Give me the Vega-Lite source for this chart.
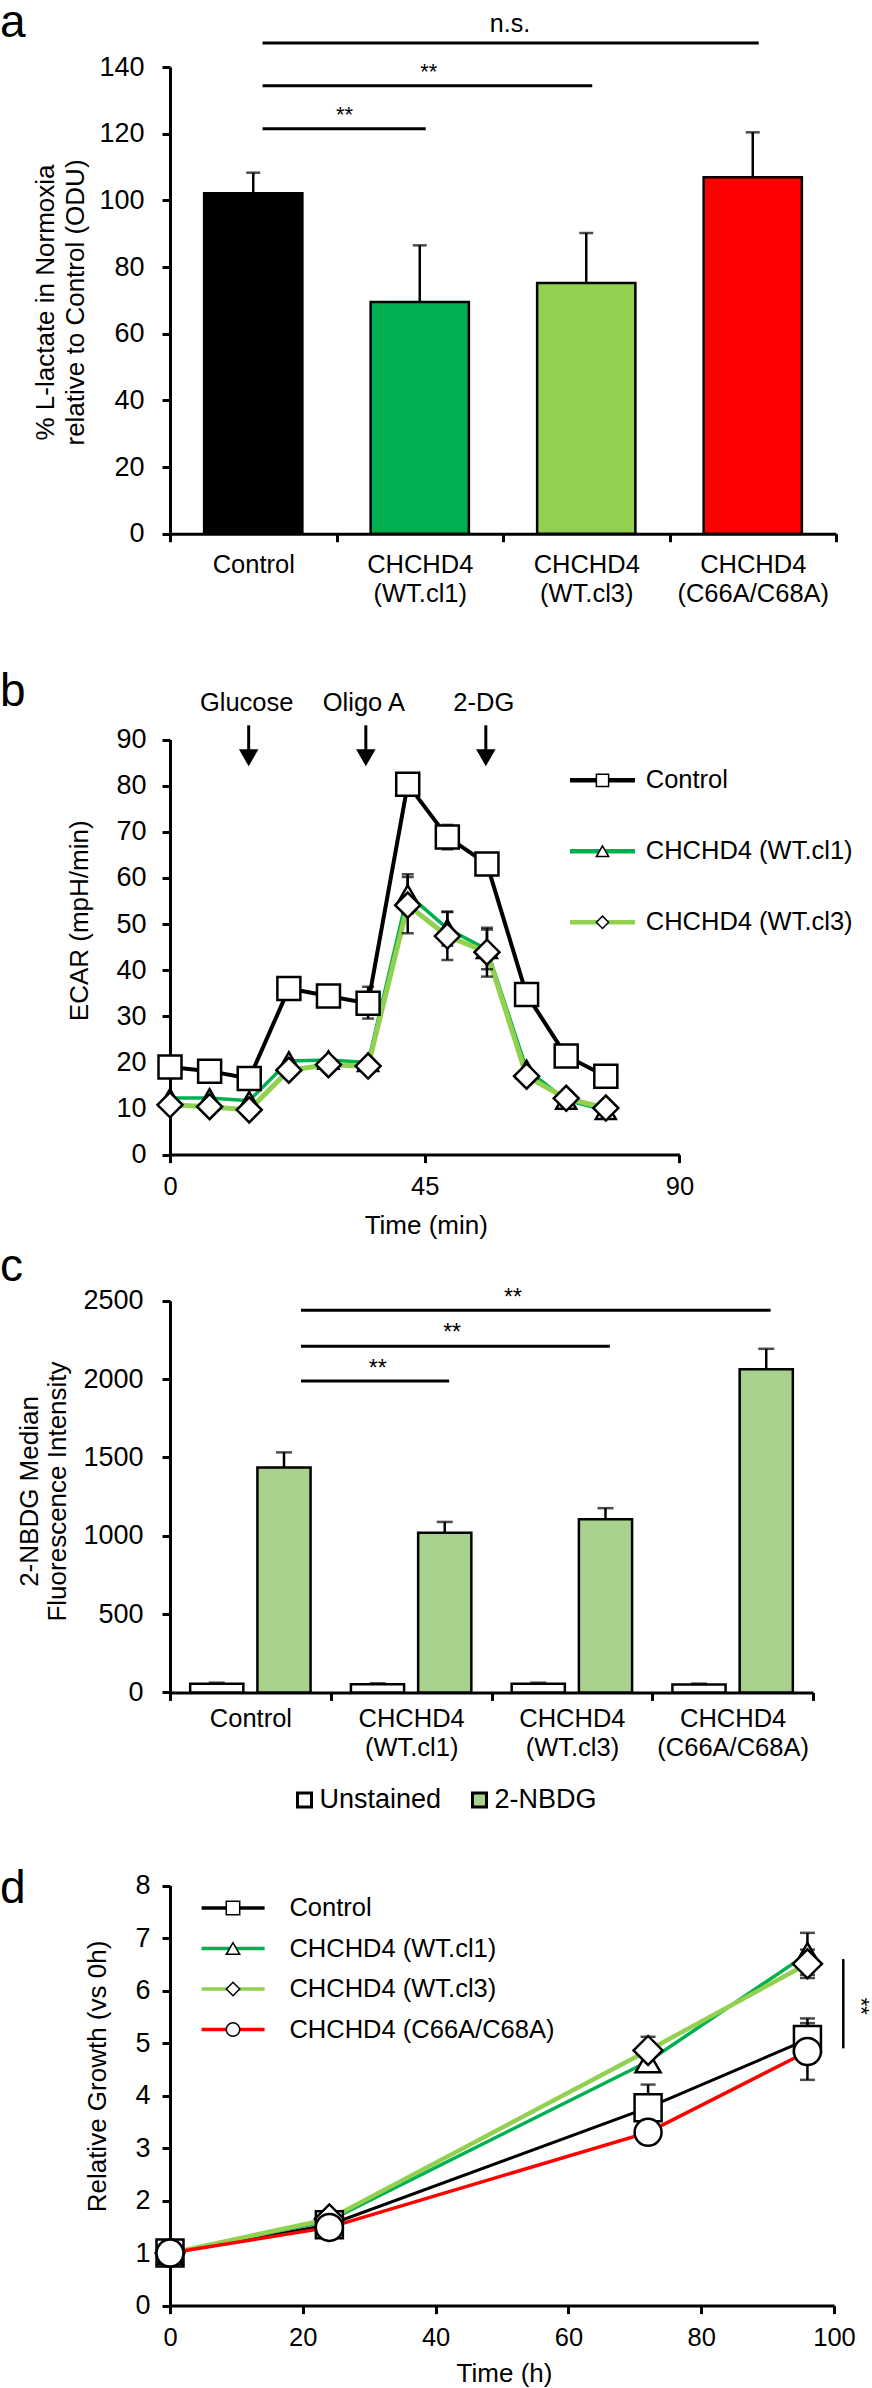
{
  "$schema": "https://vega.github.io/schema/vega-lite/v6.json",
  "autosize": "none",
  "padding": {"left": 170, "top": 67, "right": 702, "bottom": 2321},
  "background": "white",
  "config": {
    "font": "Liberation Sans",
    "view": {"stroke": null},
    "axis": {"grid": false, "domainColor": "black", "domainWidth": 3, "tickColor": "black", "tickWidth": 3, "tickSize": 8, "labelColor": "black", "titleColor": "black", "labelFontSize": 27, "titleFontSize": 26, "titleFontWeight": "normal", "labelOverlap": false, "labelFlush": false, "labelLimit": 0, "labelBound": false},
    "legend": {"labelColor": "black", "labelLimit": 0, "padding": 0},
    "title": {"fontWeight": "normal", "fontSize": 46, "color": "black"}
  },
  "datasets": {
    "lactate": [
      {"group": "Control", "value": 102.1, "upper": 108.3},
      {"group": "CHCHD4 (WT.cl1)", "value": 69.5, "upper": 86.5},
      {"group": "CHCHD4 (WT.cl3)", "value": 75.2, "upper": 90.2},
      {"group": "CHCHD4 (C66A/C68A)", "value": 106.9, "upper": 120.4}
    ],
    "lactate_sig": [
      {"from": "Control", "to": "CHCHD4 (WT.cl1)", "y": 121.5},
      {"from": "Control", "to": "CHCHD4 (WT.cl3)", "y": 134.4},
      {"from": "Control", "to": "CHCHD4 (C66A/C68A)", "y": 147.2}
    ],
    "ecar": [
      {"series": "Control", "time": 0, "ecar": 19.0},
      {"series": "Control", "time": 7, "ecar": 18.1},
      {"series": "Control", "time": 14, "ecar": 16.5},
      {"series": "Control", "time": 21, "ecar": 36.0},
      {"series": "Control", "time": 28, "ecar": 34.4},
      {"series": "Control", "time": 35, "ecar": 32.8},
      {"series": "Control", "time": 42, "ecar": 80.3},
      {"series": "Control", "time": 49, "ecar": 68.9},
      {"series": "Control", "time": 56, "ecar": 63.0},
      {"series": "Control", "time": 63, "ecar": 34.7},
      {"series": "Control", "time": 70, "ecar": 21.4},
      {"series": "Control", "time": 77, "ecar": 17.0},
      {"series": "CHCHD4 (WT.cl1)", "time": 0, "ecar": 12.3},
      {"series": "CHCHD4 (WT.cl1)", "time": 7, "ecar": 12.3},
      {"series": "CHCHD4 (WT.cl1)", "time": 14, "ecar": 11.7},
      {"series": "CHCHD4 (WT.cl1)", "time": 21, "ecar": 20.3},
      {"series": "CHCHD4 (WT.cl1)", "time": 28, "ecar": 20.5},
      {"series": "CHCHD4 (WT.cl1)", "time": 35, "ecar": 20.0},
      {"series": "CHCHD4 (WT.cl1)", "time": 42, "ecar": 56.5},
      {"series": "CHCHD4 (WT.cl1)", "time": 49, "ecar": 49.0},
      {"series": "CHCHD4 (WT.cl1)", "time": 56, "ecar": 44.5},
      {"series": "CHCHD4 (WT.cl1)", "time": 63, "ecar": 18.5},
      {"series": "CHCHD4 (WT.cl1)", "time": 70, "ecar": 11.8},
      {"series": "CHCHD4 (WT.cl1)", "time": 77, "ecar": 9.6},
      {"series": "CHCHD4 (WT.cl3)", "time": 0, "ecar": 10.8},
      {"series": "CHCHD4 (WT.cl3)", "time": 7, "ecar": 10.4},
      {"series": "CHCHD4 (WT.cl3)", "time": 14, "ecar": 9.7},
      {"series": "CHCHD4 (WT.cl3)", "time": 21, "ecar": 18.3},
      {"series": "CHCHD4 (WT.cl3)", "time": 28, "ecar": 19.5},
      {"series": "CHCHD4 (WT.cl3)", "time": 35, "ecar": 19.2},
      {"series": "CHCHD4 (WT.cl3)", "time": 42, "ecar": 54.1},
      {"series": "CHCHD4 (WT.cl3)", "time": 49, "ecar": 47.4},
      {"series": "CHCHD4 (WT.cl3)", "time": 56, "ecar": 43.9},
      {"series": "CHCHD4 (WT.cl3)", "time": 63, "ecar": 17.0},
      {"series": "CHCHD4 (WT.cl3)", "time": 70, "ecar": 12.2},
      {"series": "CHCHD4 (WT.cl3)", "time": 77, "ecar": 10.1}
    ],
    "ecar_err": [
      {"series": "Control", "time": 35, "lo": 29.5, "hi": 36.4},
      {"series": "Control", "time": 49, "lo": 66.2, "hi": 71.5},
      {"series": "CHCHD4 (WT.cl1)", "time": 42, "lo": 52.3, "hi": 60.8},
      {"series": "CHCHD4 (WT.cl3)", "time": 42, "lo": 48.0, "hi": 60.2},
      {"series": "CHCHD4 (WT.cl1)", "time": 49, "lo": 45.3, "hi": 52.7},
      {"series": "CHCHD4 (WT.cl3)", "time": 49, "lo": 42.2, "hi": 52.6},
      {"series": "CHCHD4 (WT.cl1)", "time": 56, "lo": 40.2, "hi": 48.8},
      {"series": "CHCHD4 (WT.cl3)", "time": 56, "lo": 38.6, "hi": 49.2}
    ],
    "arrows": [
      {"label": "Glucose", "time": 13.9},
      {"label": "Oligo A", "time": 34.6},
      {"label": "2-DG", "time": 55.8}
    ],
    "nbdg": [
      {"group": "Control", "stain": "Unstained", "value": 55, "upper": 62},
      {"group": "Control", "stain": "2-NBDG", "value": 1436, "upper": 1532},
      {"group": "CHCHD4 (WT.cl1)", "stain": "Unstained", "value": 52, "upper": 58},
      {"group": "CHCHD4 (WT.cl1)", "stain": "2-NBDG", "value": 1019, "upper": 1088},
      {"group": "CHCHD4 (WT.cl3)", "stain": "Unstained", "value": 55, "upper": 62},
      {"group": "CHCHD4 (WT.cl3)", "stain": "2-NBDG", "value": 1105, "upper": 1176},
      {"group": "CHCHD4 (C66A/C68A)", "stain": "Unstained", "value": 50, "upper": 56},
      {"group": "CHCHD4 (C66A/C68A)", "stain": "2-NBDG", "value": 2063, "upper": 2193}
    ],
    "nbdg_sig": [
      {"from": "Control", "to": "CHCHD4 (WT.cl1)", "y": 1987},
      {"from": "Control", "to": "CHCHD4 (WT.cl3)", "y": 2209},
      {"from": "Control", "to": "CHCHD4 (C66A/C68A)", "y": 2439}
    ],
    "growth": [
      {"series": "Control", "time": 0, "growth": 1.0},
      {"series": "Control", "time": 24, "growth": 1.54},
      {"series": "Control", "time": 72, "growth": 3.77},
      {"series": "Control", "time": 96, "growth": 5.07},
      {"series": "CHCHD4 (WT.cl1)", "time": 0, "growth": 1.0},
      {"series": "CHCHD4 (WT.cl1)", "time": 24, "growth": 1.62},
      {"series": "CHCHD4 (WT.cl1)", "time": 72, "growth": 4.65},
      {"series": "CHCHD4 (WT.cl1)", "time": 96, "growth": 6.7},
      {"series": "CHCHD4 (WT.cl3)", "time": 0, "growth": 1.0},
      {"series": "CHCHD4 (WT.cl3)", "time": 24, "growth": 1.65},
      {"series": "CHCHD4 (WT.cl3)", "time": 72, "growth": 4.86},
      {"series": "CHCHD4 (WT.cl3)", "time": 96, "growth": 6.51},
      {"series": "CHCHD4 (C66A/C68A)", "time": 0, "growth": 1.0},
      {"series": "CHCHD4 (C66A/C68A)", "time": 24, "growth": 1.49},
      {"series": "CHCHD4 (C66A/C68A)", "time": 72, "growth": 3.3},
      {"series": "CHCHD4 (C66A/C68A)", "time": 96, "growth": 4.84}
    ],
    "growth_err": [
      {"series": "Control", "time": 72, "lo": 3.33, "hi": 4.21},
      {"series": "Control", "time": 96, "lo": 4.67, "hi": 5.47},
      {"series": "CHCHD4 (WT.cl1)", "time": 72, "lo": 4.5, "hi": 4.8},
      {"series": "CHCHD4 (WT.cl1)", "time": 96, "lo": 6.3, "hi": 7.1},
      {"series": "CHCHD4 (WT.cl3)", "time": 72, "lo": 4.6, "hi": 5.12},
      {"series": "CHCHD4 (WT.cl3)", "time": 96, "lo": 6.24, "hi": 6.78},
      {"series": "CHCHD4 (C66A/C68A)", "time": 96, "lo": 4.3, "hi": 5.38}
    ]
  },
  "spacing": 0,
  "bounds": "flush",
  "resolve": {
    "scale": {"fill": "independent", "stroke": "independent", "shape": "independent"},
    "legend": {"fill": "independent", "stroke": "independent", "shape": "independent"}
  },
  "vconcat": [
    {
      "width": 666,
      "height": 466.7,
      "title": {"text": "a", "anchor": "start", "frame": "group", "orient": "top", "offset": 0, "dx": -170, "dy": 71.5, "baseline": "alphabetic"},
      "layer": [
        {
          "data": {"name": "lactate"},
          "mark": {"type": "bar", "width": {"band": 0.59}, "stroke": "black", "strokeWidth": 2.5},
          "encoding": {
            "x": {"field": "group", "type": "nominal", "sort": null,
              "scale": {"domain": ["Control", "CHCHD4 (WT.cl1)", "CHCHD4 (WT.cl3)", "CHCHD4 (C66A/C68A)"], "paddingInner": 0, "paddingOuter": 0},
              "axis": {"title": null, "tickBand": "extent", "labelAngle": 0, "labelExpr": "split(datum.label, ' ')", "labelFontSize": 25.5, "labelPadding": 11, "labelLineHeight": 29}},
            "y": {"field": "value", "type": "quantitative",
              "scale": {"domain": [0, 140], "nice": false},
              "axis": {"title": ["% L-lactate in Normoxia", "relative to Control (ODU)"], "values": [0, 20, 40, 60, 80, 100, 120, 140], "labelPadding": 18, "titleX": -125, "titleY": 235, "titleBaseline": "middle", "titleLineHeight": 30}},
            "fill": {"field": "group", "type": "nominal",
              "scale": {"domain": ["Control", "CHCHD4 (WT.cl1)", "CHCHD4 (WT.cl3)", "CHCHD4 (C66A/C68A)"], "range": ["#000000", "#00b050", "#92d050", "#ff0000"]},
              "legend": null}
          }
        },
        {
          "data": {"name": "lactate"},
          "mark": {"type": "rule", "color": "black", "strokeWidth": 2.5},
          "encoding": {
            "x": {"field": "group", "type": "nominal", "sort": null},
            "y": {"field": "value", "type": "quantitative"},
            "y2": {"field": "upper"}
          }
        },
        {
          "data": {"name": "lactate"},
          "mark": {"type": "tick", "orient": "horizontal", "size": 14, "thickness": 2.5, "color": "black"},
          "encoding": {
            "x": {"field": "group", "type": "nominal", "sort": null},
            "y": {"field": "upper", "type": "quantitative"}
          }
        },
        {
          "data": {"name": "lactate_sig"},
          "mark": {"type": "rule", "color": "black", "strokeWidth": 3, "xOffset": 9.3, "x2Offset": 6},
          "encoding": {
            "x": {"field": "from", "type": "nominal", "sort": null},
            "x2": {"field": "to"},
            "y": {"field": "y", "type": "quantitative"}
          }
        },
        {
          "data": {"values": [{"label": "**", "at": "CHCHD4 (WT.cl1)", "y": 123.6}]},
          "mark": {"type": "text", "fontSize": 22, "dx": 8, "baseline": "alphabetic", "color": "black"},
          "encoding": {
            "x": {"field": "at", "type": "nominal", "bandPosition": 0},
            "y": {"field": "y", "type": "quantitative"},
            "text": {"field": "label"}
          }
        },
        {
          "data": {"values": [{"label": "**", "at": "CHCHD4 (WT.cl1)", "y": 136.5}]},
          "mark": {"type": "text", "fontSize": 22, "dx": 9, "baseline": "alphabetic", "color": "black"},
          "encoding": {
            "x": {"field": "at", "type": "nominal"},
            "y": {"field": "y", "type": "quantitative"},
            "text": {"field": "label"}
          }
        },
        {
          "data": {"values": [{"label": "n.s.", "at": "CHCHD4 (WT.cl3)", "y": 150.5}]},
          "mark": {"type": "text", "fontSize": 25, "dx": 7, "baseline": "alphabetic", "color": "black"},
          "encoding": {
            "x": {"field": "at", "type": "nominal", "bandPosition": 0},
            "y": {"field": "y", "type": "quantitative"},
            "text": {"field": "label"}
          }
        }
      ]
    },
    {
      "width": 509.4,
      "height": 620.6,
      "title": {"text": "b", "anchor": "start", "frame": "group", "orient": "top", "offset": 0, "dx": -170, "dy": 218.3, "baseline": "alphabetic"},
      "layer": [
        {
          "data": {"name": "ecar"},
          "mark": {"type": "line"},
          "encoding": {
            "x": {"field": "time", "type": "quantitative",
              "scale": {"domain": [0, 90], "nice": false},
              "axis": {"title": "Time (min)", "values": [0, 45, 90], "labelFontSize": 25.5, "labelPadding": 11.7, "titleX": 255.8, "titleY": 70.7, "titleBaseline": "middle"}},
            "y": {"field": "ecar", "type": "quantitative",
              "scale": {"domain": [0, 90], "nice": false, "range": [620.6, 205.6]},
              "axis": {"title": "ECAR (mpH/min)", "values": [0, 10, 20, 30, 40, 50, 60, 70, 80, 90], "labelPadding": 16, "titleX": -90.6, "titleY": 386.3, "titleBaseline": "middle"}},
            "stroke": {"field": "series", "type": "nominal",
              "scale": {"domain": ["Control", "CHCHD4 (WT.cl1)", "CHCHD4 (WT.cl3)"], "range": ["#000000", "#00b050", "#92d050"]},
              "legend": {"orient": "none", "legendX": 400, "legendY": 233.55, "title": null, "symbolType": "M-5,0H5", "symbolSize": 169, "symbolOffset": 19.75, "symbolStrokeWidth": 4.5, "labelFontSize": 25.5, "labelOffset": 30.5, "rowPadding": 44, "padding": 0}},
            "strokeWidth": {"condition": [{"test": "datum.series === 'CHCHD4 (WT.cl1)'", "value": 3.5}, {"test": "datum.series === 'CHCHD4 (WT.cl3)'", "value": 5}], "value": 4}
          }
        },
        {
          "data": {"name": "arrows"},
          "mark": {"type": "rule", "color": "black", "strokeWidth": 3},
          "encoding": {
            "x": {"field": "time", "type": "quantitative"},
            "y": {"datum": 93.1},
            "y2": {"datum": 87.2}
          }
        },
        {
          "data": {"name": "arrows"},
          "mark": {"type": "point", "shape": "triangle-down", "filled": true, "color": "black", "size": 380, "opacity": 1},
          "encoding": {
            "x": {"field": "time", "type": "quantitative"},
            "y": {"datum": 86.05}
          }
        },
        {
          "data": {"name": "arrows"},
          "mark": {"type": "text", "fontSize": 25.5, "baseline": "alphabetic", "dx": -2, "color": "black"},
          "encoding": {
            "x": {"field": "time", "type": "quantitative"},
            "y": {"datum": 96.1},
            "text": {"field": "label"}
          }
        },
        {
          "data": {"name": "ecar_err"},
          "mark": {"type": "rule", "color": "black", "strokeWidth": 2.5},
          "encoding": {
            "x": {"field": "time", "type": "quantitative"},
            "y": {"field": "lo", "type": "quantitative"},
            "y2": {"field": "hi"}
          }
        },
        {
          "data": {"name": "ecar_err"},
          "mark": {"type": "tick", "orient": "horizontal", "size": 12, "thickness": 2.5, "color": "black"},
          "encoding": {
            "x": {"field": "time", "type": "quantitative"},
            "y": {"field": "lo", "type": "quantitative"}
          }
        },
        {
          "data": {"name": "ecar_err"},
          "mark": {"type": "tick", "orient": "horizontal", "size": 12, "thickness": 2.5, "color": "black"},
          "encoding": {
            "x": {"field": "time", "type": "quantitative"},
            "y": {"field": "hi", "type": "quantitative"}
          }
        },
        {
          "data": {"name": "ecar"},
          "mark": {"type": "point", "filled": true, "fill": "white", "stroke": "black", "strokeWidth": 2.5, "opacity": 1},
          "encoding": {
            "x": {"field": "time", "type": "quantitative"},
            "y": {"field": "ecar", "type": "quantitative"},
            "shape": {"field": "series", "type": "nominal", "sort": ["Control", "CHCHD4 (WT.cl1)", "CHCHD4 (WT.cl3)"],
              "scale": {"range": ["square", "triangle-up", "diamond"]},
              "legend": {"orient": "none", "legendX": 419.75, "legendY": 233.55, "title": null, "symbolSize": 150, "labelFontSize": 25.5, "labelExpr": "''", "rowPadding": 44, "padding": 0,
                "encode": {"symbols": {"update": {"fill": {"value": "white"}, "stroke": {"value": "black"}, "strokeWidth": {"value": 2.5}, "opacity": {"value": 1}}}}}},
            "size": {"condition": [{"test": "datum.series === 'CHCHD4 (WT.cl1)'", "value": 400}, {"test": "datum.series === 'CHCHD4 (WT.cl3)'", "value": 625}], "value": 529}
          }
        }
      ]
    },
    {
      "width": 643,
      "height": 537.4,
      "title": {"text": "c", "anchor": "start", "frame": "group", "orient": "top", "offset": 0, "dx": -170, "dy": 171.7, "baseline": "alphabetic"},
      "layer": [
        {
          "data": {"name": "nbdg"},
          "mark": {"type": "bar", "stroke": "black", "strokeWidth": 2.5},
          "encoding": {
            "x": {"field": "group", "type": "nominal", "sort": null,
              "scale": {"domain": ["Control", "CHCHD4 (WT.cl1)", "CHCHD4 (WT.cl3)", "CHCHD4 (C66A/C68A)"], "paddingInner": 0, "paddingOuter": 0},
              "axis": {"title": null, "tickBand": "extent", "labelAngle": 0, "labelExpr": "split(datum.label, ' ')", "labelFontSize": 25.5, "labelPadding": 6.3, "labelLineHeight": 29}},
            "xOffset": {"field": "stain", "type": "nominal", "sort": null,
              "scale": {"domain": ["Unstained", "2-NBDG"], "paddingInner": 0.209, "paddingOuter": 0.3}},
            "y": {"field": "value", "type": "quantitative",
              "scale": {"domain": [0, 2500], "nice": false, "range": [537.4, 145.7]},
              "axis": {"title": ["2-NBDG Median", "Fluorescence Intensity"], "format": "d", "values": [0, 500, 1000, 1500, 2000, 2500], "labelPadding": 19, "titleX": -141, "titleY": 336, "titleBaseline": "middle", "titleLineHeight": 28}},
            "fill": {"field": "stain", "type": "nominal",
              "scale": {"domain": ["Unstained", "2-NBDG"], "range": ["#ffffff", "#a9d18e"]},
              "legend": {"orient": "none", "legendX": 121, "legendY": 631.2, "direction": "horizontal", "title": null, "symbolType": "square", "symbolSize": 196, "symbolStrokeColor": "black", "symbolStrokeWidth": 3, "labelFontSize": 27, "labelOffset": 1.5, "columnPadding": 24, "padding": 0}}
          }
        },
        {
          "data": {"name": "nbdg"},
          "mark": {"type": "rule", "color": "black", "strokeWidth": 2.5},
          "encoding": {
            "x": {"field": "group", "type": "nominal", "sort": null},
            "xOffset": {"field": "stain", "type": "nominal", "sort": null},
            "y": {"field": "value", "type": "quantitative"},
            "y2": {"field": "upper"}
          }
        },
        {
          "data": {"name": "nbdg"},
          "mark": {"type": "tick", "orient": "horizontal", "size": 16, "thickness": 2.5, "color": "black"},
          "encoding": {
            "x": {"field": "group", "type": "nominal", "sort": null},
            "xOffset": {"field": "stain", "type": "nominal", "sort": null},
            "y": {"field": "upper", "type": "quantitative"}
          }
        },
        {
          "data": {"name": "nbdg_sig"},
          "mark": {"type": "rule", "color": "black", "strokeWidth": 3, "xOffset": 50.6, "x2Offset": 38},
          "encoding": {
            "x": {"field": "from", "type": "nominal", "sort": null},
            "x2": {"field": "to"},
            "y": {"field": "y", "type": "quantitative"}
          }
        },
        {
          "data": {"values": [{"label": "**", "at": "CHCHD4 (WT.cl1)", "y": 2021}]},
          "mark": {"type": "text", "fontSize": 23, "dx": 47, "baseline": "alphabetic", "color": "black"},
          "encoding": {
            "x": {"field": "at", "type": "nominal", "bandPosition": 0},
            "y": {"field": "y", "type": "quantitative"},
            "text": {"field": "label"}
          }
        },
        {
          "data": {"values": [{"label": "**", "at": "CHCHD4 (WT.cl1)", "y": 2251}]},
          "mark": {"type": "text", "fontSize": 23, "dx": 41, "baseline": "alphabetic", "color": "black"},
          "encoding": {
            "x": {"field": "at", "type": "nominal"},
            "y": {"field": "y", "type": "quantitative"},
            "text": {"field": "label"}
          }
        },
        {
          "data": {"values": [{"label": "**", "at": "CHCHD4 (WT.cl3)", "y": 2474}]},
          "mark": {"type": "text", "fontSize": 23, "dx": 21.5, "baseline": "alphabetic", "color": "black"},
          "encoding": {
            "x": {"field": "at", "type": "nominal", "bandPosition": 0},
            "y": {"field": "y", "type": "quantitative"},
            "text": {"field": "label"}
          }
        }
      ]
    },
    {
      "width": 664,
      "height": 612.6,
      "title": {"text": "d", "anchor": "start", "frame": "group", "orient": "top", "offset": 0, "dx": -170, "dy": 256.3, "baseline": "alphabetic"},
      "layer": [
        {
          "data": {"name": "growth"},
          "mark": {"type": "line"},
          "encoding": {
            "x": {"field": "time", "type": "quantitative",
              "scale": {"domain": [0, 100], "nice": false},
              "axis": {"title": "Time (h)", "values": [0, 20, 40, 60, 80, 100], "labelFontSize": 25.5, "labelPadding": 12, "titleX": 334, "titleY": 68, "titleBaseline": "middle"}},
            "y": {"field": "growth", "type": "quantitative",
              "scale": {"domain": [0, 8], "nice": false, "range": [612.6, 192.6]},
              "axis": {"title": "Relative Growth (vs 0h)", "format": "d", "values": [0, 1, 2, 3, 4, 5, 6, 7, 8], "labelPadding": 12, "titleX": -72.5, "titleY": 383, "titleBaseline": "middle"}},
            "stroke": {"field": "series", "type": "nominal",
              "scale": {"domain": ["Control", "CHCHD4 (WT.cl1)", "CHCHD4 (WT.cl3)", "CHCHD4 (C66A/C68A)"], "range": ["#000000", "#00b050", "#92d050", "#ff0000"]},
              "legend": {"orient": "none", "legendX": 31.6, "legendY": 202.25, "title": null, "symbolType": "M-5,0H5", "symbolSize": 158.8, "symbolOffset": 18.75, "symbolStrokeWidth": 3.5, "labelFontSize": 25.5, "labelOffset": 43.6, "rowPadding": 13.5, "padding": 0}},
            "strokeWidth": {"condition": [{"test": "datum.series === 'CHCHD4 (WT.cl1)'", "value": 3.5}, {"test": "datum.series === 'CHCHD4 (WT.cl3)'", "value": 4.5}, {"test": "datum.series === 'CHCHD4 (C66A/C68A)'", "value": 3.5}], "value": 3}
          }
        },
        {
          "data": {"name": "growth_err"},
          "mark": {"type": "rule", "color": "black", "strokeWidth": 2.5},
          "encoding": {
            "x": {"field": "time", "type": "quantitative"},
            "y": {"field": "lo", "type": "quantitative"},
            "y2": {"field": "hi"}
          }
        },
        {
          "data": {"name": "growth_err"},
          "mark": {"type": "tick", "orient": "horizontal", "size": 15, "thickness": 2.5, "color": "black"},
          "encoding": {
            "x": {"field": "time", "type": "quantitative"},
            "y": {"field": "lo", "type": "quantitative"}
          }
        },
        {
          "data": {"name": "growth_err"},
          "mark": {"type": "tick", "orient": "horizontal", "size": 15, "thickness": 2.5, "color": "black"},
          "encoding": {
            "x": {"field": "time", "type": "quantitative"},
            "y": {"field": "hi", "type": "quantitative"}
          }
        },
        {
          "data": {"name": "growth"},
          "mark": {"type": "point", "filled": true, "fill": "white", "stroke": "black", "strokeWidth": 2.5, "opacity": 1},
          "encoding": {
            "x": {"field": "time", "type": "quantitative"},
            "y": {"field": "growth", "type": "quantitative"},
            "shape": {"field": "series", "type": "nominal", "sort": ["Control", "CHCHD4 (WT.cl1)", "CHCHD4 (WT.cl3)", "CHCHD4 (C66A/C68A)"],
              "scale": {"range": ["square", "triangle-up", "diamond", "circle"]},
              "legend": {"orient": "none", "legendX": 50.25, "legendY": 202.25, "title": null, "symbolSize": 180, "labelFontSize": 25.5, "labelExpr": "''", "rowPadding": 13.5, "padding": 0,
                "encode": {"symbols": {"update": {"fill": {"value": "white"}, "stroke": {"value": "black"}, "strokeWidth": {"value": 2.5}, "opacity": {"value": 1}}}}}},
            "size": {"condition": [{"test": "datum.series === 'CHCHD4 (WT.cl1)'", "value": 625}, {"test": "datum.series === 'CHCHD4 (WT.cl3)'", "value": 841}], "value": 729}
          }
        },
        {
          "data": {"values": [{"label": "**"}]},
          "mark": {"type": "rule", "color": "black", "strokeWidth": 2.5},
          "encoding": {
            "x": {"datum": 101.4},
            "y": {"datum": 4.9},
            "y2": {"datum": 6.6}
          }
        },
        {
          "data": {"values": [{"label": "**"}]},
          "mark": {"type": "text", "fontSize": 22, "angle": 90, "align": "center", "baseline": "middle", "color": "black"},
          "encoding": {
            "x": {"datum": 104.1},
            "y": {"datum": 5.7},
            "text": {"field": "label"}
          }
        }
      ]
    }
  ]
}
